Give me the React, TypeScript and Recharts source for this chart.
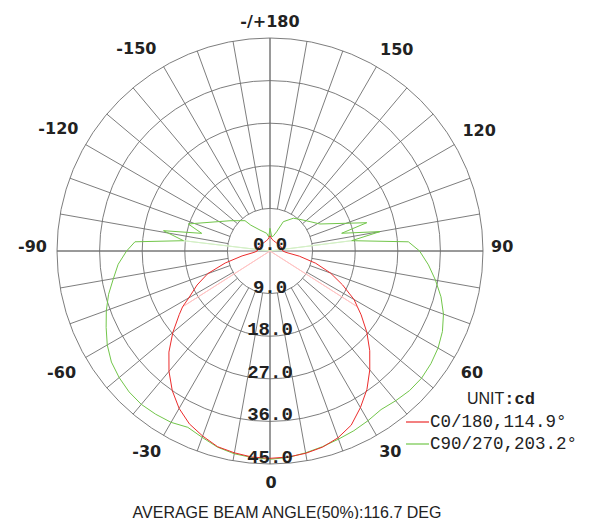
import React from "react";
import {
  PolarAngleAxis,
  PolarGrid,
  PolarRadiusAxis,
  Radar,
  RadarChart,
} from "recharts";

const WIDTH = 590;
const HEIGHT = 519;
const CX = 270;
const CY = 251;
const OUTER = 213;
const MAX_CD = 45;
const LABEL_R = 224;
const GRID = "#6e6e6e";
const START_ANGLE = 90; // -180 deg (C-plane) sits at the top
const C0_COLOR = "#ec2c2c";
const C90_COLOR = "#72c64a";

// rings (cd) and spokes (deg, 0 = straight down)
const ringValues = [0, 9, 18, 27, 36, 45];
const spokeAngles = Array.from({ length: 36 }, (_, i) => -180 + i * 10);

// small placement tweaks for the angle labels (px)
const labelNudge: Record<number, [number, number]> = {
  150: [8, 4],
  [-150]: [-14, 5],
  90: [-3, -5],
  [-90]: [1, -5],
  60: [-3, 3],
  [-60]: [-1, 2],
  30: [3, -3],
  [-30]: [-5, -4],
  0: [1, 1],
};

// C0/180 plane
const c0Angles = [
  -175, -170, -160, -150, -140, -130, -120, -110, -100, -90, -85, -80, -75, -70,
  -65, -60, -57.45, -55, -50, -45, -40, -35, -30, -25, -20, -15, -10, -5, 0, 5,
  10, 15, 20, 25, 30, 35, 40, 45, 50, 55, 57.45, 60, 65, 70, 75, 80, 85, 90, 100,
  110, 120, 130, 140, 150, 160, 170, 175, 180,
];
const c0Values = [
  2.8, 2.5, 2.3, 2.2, 2.2, 2.3, 2.4, 2.5, 2.6, 2.7, 3.4, 6.0, 9.8, 14.0, 17.0,
  19.8, 21.9, 23.4, 26.8, 30.2, 33.2, 36.0, 38.4, 40.3, 41.6, 42.8, 43.3, 43.7,
  43.8, 43.7, 43.4, 42.9, 42.0, 40.6, 38.2, 35.7, 32.8, 29.8, 26.7, 23.5, 21.9,
  20.5, 16.9, 13.6, 10.0, 6.3, 3.4, 2.7, 2.6, 2.5, 2.4, 2.3, 2.2, 2.2, 2.3, 2.5,
  2.8, 3.2,
];

// C90/270 plane
const c90Angles = [
  -175, -169.4, -154.5, -143.4, -140.5, -127.1, -108.3, -104.5, -100.8, -96.8,
  -93.9, -90, -85, -80, -75, -70, -65, -60, -55, -50, -45, -40, -35, -30, -25,
  -20, -15, -10, -5, 0, 5, 10, 15, 20, 25, 30, 35, 40, 45, 50, 55, 60, 65, 70, 75,
  80, 85, 90, 93.8, 97.2, 100, 103.9, 106.3, 118.4, 126.2, 136.6, 144.5, 155.6,
  161, 167, 173, 180,
];
const c90Values = [
  3.0, 3.8, 4.9, 6.8, 8.3, 10.6, 18.2, 14.9, 22.9, 18.4, 28.6, 30.3, 32.2, 33.6,
  35.3, 36.8, 38.2, 39.7, 40.9, 41.6, 42.1, 42.3, 42.1, 41.8, 41.1, 41.9, 42.9,
  43.5, 43.8, 44.0, 43.8, 43.3, 42.8, 42.3, 41.9, 41.4, 40.9, 41.3, 41.7, 41.8,
  41.5, 41.0, 40.2, 39.0, 37.4, 35.5, 33.6, 31.6, 29.3, 17.4, 23.6, 15.6, 21.3,
  12.0, 10.5, 9.2, 8.5, 6.8, 4.3, 3.3, 3.0, 4.8,
];

// half beam angle markers (centre -> point on the curve)
const c0BeamLeft = { angles: [-57.45, 0], values: [21.9, 0] };
const c0BeamRight = { angles: [0, 57.45], values: [0, 21.9] };
const c90BeamLeft = { angles: [-96.8, 0], values: [18.4, 0] };
const c90BeamRight = { angles: [0, 97.2], values: [0, 17.4] };

const legendItems = [
  { name: "C0/180,114.9°", color: C0_COLOR },
  { name: "C90/270,203.2°", color: C90_COLOR },
];

type Series = { key: string; angles: number[]; values: number[] };

const buildRows = (list: Series[]) => {
  const angles = Array.from(new Set(list.flatMap((s) => s.angles))).sort((a, b) => a - b);
  return angles.map((angle) => {
    const row: Record<string, number> = { angle };
    list.forEach((s) => {
      const i = s.angles.indexOf(angle);
      if (i >= 0) row[s.key] = s.values[i];
    });
    return row;
  });
};

const c0Rows = buildRows([
  { key: "c0", angles: c0Angles, values: c0Values },
  { key: "beamL", ...c0BeamLeft },
  { key: "beamR", ...c0BeamRight },
]);
const c90Rows = buildRows([
  { key: "c90", angles: c90Angles, values: c90Values },
  { key: "beamL", ...c90BeamLeft },
  { key: "beamR", ...c90BeamRight },
]);
const spokeRows = spokeAngles.map((angle) => ({ angle }));

const ringRadii = ringValues.filter((v) => v > 0).map((v) => (v / MAX_CD) * OUTER);

let measureCtx: CanvasRenderingContext2D | null = null;
const textWidth = (text: string, font: string) => {
  if (!measureCtx) measureCtx = document.createElement("canvas").getContext("2d");
  if (!measureCtx) return text.length * 10;
  measureCtx.font = font;
  return measureCtx.measureText(text).width;
};

const ANGLE_FONT = "bold 16px 'DejaVu Sans'";

const renderAngleTick = (props: any) => {
  const v = Number(props.payload.value);
  if (v % 30 !== 0) return <g />;
  const label = v === -180 ? "-/+180" : String(v);
  const rad = ((START_ANGLE + v + 180) * Math.PI) / 180;
  const ux = Math.cos(-rad);
  const uy = Math.sin(-rad);
  const w = textWidth(label, ANGLE_FONT);
  const r = LABEL_R + (Math.abs(ux) * w) / 2 + (Math.abs(uy) * 12) / 2;
  const [nx, ny] = labelNudge[v] || [0, 0];
  return (
    <text
      x={CX + ux * r + nx}
      y={CY + uy * r + ny}
      textAnchor="middle"
      dominantBaseline="central"
      fontFamily="'DejaVu Sans'"
      fontWeight="bold"
      fontSize={16}
      fill="#222"
    >
      {label}
    </text>
  );
};

const renderRingTick = (props: any) => {
  const { x, y, payload } = props;
  return (
    <text
      x={x}
      y={y - 1}
      textAnchor="middle"
      fontFamily="'Liberation Mono'"
      fontWeight="bold"
      fontSize={19}
      fill="#222"
    >
      {Number(payload.value).toFixed(1)}
    </text>
  );
};

const layer: React.CSSProperties = { position: "absolute", left: 0, top: 0 };
const noMargin = { top: 0, right: 0, bottom: 0, left: 0 };

const chartProps = {
  width: WIDTH,
  height: HEIGHT,
  cx: CX,
  cy: CY,
  outerRadius: OUTER,
  startAngle: START_ANGLE,
  endAngle: START_ANGLE + 360,
  margin: noMargin,
};

const numericAngleAxis = (
  <PolarAngleAxis
    type="number"
    scale="linear"
    dataKey="angle"
    domain={[-180, 180]}
    tick={false}
    axisLine={false}
    tickLine={false}
  />
);

export default function App() {
  return (
    <div
      style={{
        position: "fixed",
        left: 0,
        top: 0,
        width: WIDTH,
        height: HEIGHT,
        overflow: "hidden",
        background: "#fff",
      }}
    >
      {/* rings + 10 deg spokes (spokes start at the 9.0 ring) */}
      <div style={layer}>
        <RadarChart {...chartProps} innerRadius={(9 / MAX_CD) * OUTER} data={spokeRows}>
          <PolarGrid gridType="circle" polarRadius={ringRadii} stroke={GRID} strokeWidth={0.9} />
          <PolarAngleAxis
            dataKey="angle"
            axisLine={false}
            tickLine={false}
            tick={renderAngleTick}
          />
        </RadarChart>
      </div>

      {/* C90/270 */}
      <div style={layer}>
        <RadarChart {...chartProps} data={c90Rows}>
          <PolarGrid
            gridType="circle"
            polarAngles={[0, 90, 180, 270]}
            polarRadius={[]}
            stroke={GRID}
            strokeWidth={0.9}
          />
          {numericAngleAxis}
          <PolarRadiusAxis type="number" domain={[0, MAX_CD]} allowDataOverflow tick={false} axisLine={false} tickLine={false} />
          <Radar dataKey="beamL" stroke="#d4f0c6" fill="none" strokeWidth={1} connectNulls isAnimationActive={false} />
          <Radar dataKey="beamR" stroke="#d4f0c6" fill="none" strokeWidth={1} connectNulls isAnimationActive={false} />
          <Radar
            name="C90/270,203.2°"
            dataKey="c90"
            stroke={C90_COLOR}
            fill="none"
            strokeWidth={1}
            connectNulls
            isAnimationActive={false}
          />
        </RadarChart>
      </div>

      {/* C0/180 + ring labels */}
      <div style={layer}>
        <RadarChart {...chartProps} data={c0Rows}>
          {numericAngleAxis}
          <PolarRadiusAxis
            type="number"
            angle={-90}
            domain={[0, MAX_CD]}
            ticks={ringValues}
            allowDataOverflow
            axisLine={false}
            tickLine={false}
            tick={renderRingTick}
          />
          <Radar dataKey="beamL" stroke="#ffc4c4" fill="none" strokeWidth={1} connectNulls isAnimationActive={false} />
          <Radar dataKey="beamR" stroke="#ffc4c4" fill="none" strokeWidth={1} connectNulls isAnimationActive={false} />
          <Radar
            name="C0/180,114.9°"
            dataKey="c0"
            stroke={C0_COLOR}
            fill="none"
            strokeWidth={1}
            connectNulls
            isAnimationActive={false}
          />
        </RadarChart>
      </div>

      <div style={{ position: "absolute", left: 400, top: 388, width: 190, color: "#222" }}>
        <div style={{ height: 22.5, lineHeight: "22.5px", paddingLeft: 67, whiteSpace: "nowrap" }}>
          <span style={{ fontFamily: "'Liberation Sans'", fontSize: 16 }}>UNIT</span>
          <span style={{ fontFamily: "'Liberation Mono'", fontWeight: "bold", fontSize: 17 }}>
            :cd
          </span>
        </div>
        {legendItems.map((item) => (
          <div
            key={item.name}
            style={{
              height: 22.5,
              whiteSpace: "nowrap",
              display: "flex",
              alignItems: "center",
            }}
          >
            <svg width={24} height={4} style={{ marginLeft: 6, display: "block" }}>
              <line x1={0} y1={2} x2={23} y2={2} stroke={item.color} strokeWidth={1.2} />
            </svg>
            <span style={{ fontFamily: "'Liberation Mono'", fontSize: 17.5 }}>{item.name}</span>
          </div>
        ))}
      </div>

      <div
        style={{
          position: "absolute",
          left: 0,
          top: 504.5,
          width: 574,
          textAlign: "center",
          fontFamily: "'Liberation Sans'",
          fontSize: 16,
          lineHeight: "16px",
          color: "#222",
          whiteSpace: "nowrap",
        }}
      >
        AVERAGE BEAM ANGLE(50%):116.7 DEG
      </div>
    </div>
  );
}
